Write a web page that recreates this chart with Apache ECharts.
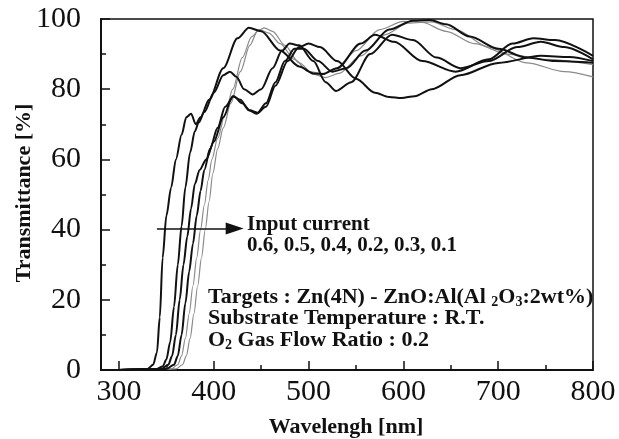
<!DOCTYPE html>
<html>
<head>
<meta charset="utf-8">
<script src="https://cdn.jsdelivr.net/npm/echarts@6/dist/echarts.min.js"></script>
<style>
html, body { margin: 0; padding: 0; background: #fff; }
#main { width: 619px; height: 439px; }
</style>
</head>
<body>
<div id="main"></div>
<script>
// input current 0.6
var wl1 = [300, 330, 336, 340, 343, 346, 350, 355, 360, 366, 371, 376, 381, 386, 395, 410, 425, 437, 450, 470, 490, 505, 515, 530, 555, 570, 590, 620, 655, 690, 715, 737, 760, 800];
var tr1 = [0, 0.3, 1.5, 5, 15, 32, 44, 52, 60, 67, 72, 73, 70, 72, 77, 86, 94.5, 97.5, 96.5, 91, 86.5, 84.5, 84.3, 86, 93, 95.5, 93.5, 88, 85, 88.5, 93, 94.5, 94, 89.5];
// 0.5
var wl2 = [300, 340, 346, 350, 354, 358, 362, 366, 370, 375, 380, 384, 390, 400, 410, 417, 424, 432, 441, 450, 462, 472, 480, 490, 505, 518, 529, 545, 565, 588, 610, 635, 660, 690, 720, 745, 770, 800];
var tr2 = [0, 0.3, 1, 3, 8, 18, 30, 41, 52, 62, 68, 70.5, 73.5, 79, 84, 85, 83.5, 80, 78.5, 80, 86, 91, 93, 92.5, 88, 82, 79.5, 82, 90, 95.5, 94, 89, 86, 88, 92, 93.5, 92, 88.5];
// 0.4
var wl3 = [300, 345, 352, 356, 360, 364, 368, 372, 376, 380, 385, 392, 400, 410, 420, 428, 437, 445, 455, 465, 478, 490, 500, 512, 530, 550, 570, 585, 598, 612, 630, 660, 700, 745, 775, 800];
var tr3 = [0, 0.3, 1.5, 4, 10, 20, 30, 38, 46, 53, 57, 60, 65, 72, 78, 77, 74, 73, 75, 81, 88, 92, 93, 92, 88, 83, 79, 77.8, 77.5, 78, 80, 84, 87.5, 89.5, 89.2, 88];
// 0.2
var wl4 = [300, 350, 358, 362, 366, 370, 374, 378, 382, 386, 390, 396, 404, 412, 421, 430, 438, 446, 455, 465, 475, 485, 495, 510, 525, 540, 560, 585, 610, 628, 645, 670, 700, 730, 760, 800];
var tr4 = [0, 0.3, 1.5, 4, 10, 19, 28, 36, 44, 51, 57, 63, 69, 75, 78, 76, 74, 73.3, 76, 82, 88, 91.5, 91.5, 88, 85, 86, 91, 97, 99.5, 99.7, 98.5, 95, 91.5, 89, 88, 87.5];
// 0.3
var wl5 = [300, 355, 362, 366, 370, 374, 378, 382, 386, 390, 394, 398, 404, 412, 420, 430, 440, 448, 458, 470, 485, 500, 515, 530, 550, 575, 600, 620, 645, 675, 710, 750, 800];
var tr5 = [0, 0.3, 1.5, 4, 9, 16, 24, 32, 40, 47, 54, 60, 66, 73, 80, 89, 95, 97, 96, 93, 88.5, 85, 84.5, 86, 91, 97, 99.3, 99, 96.5, 93, 90, 88.5, 87];
// 0.1
var wl6 = [300, 360, 367, 371, 375, 379, 383, 387, 391, 395, 399, 404, 410, 418, 428, 438, 446, 453, 462, 475, 490, 505, 518, 532, 555, 580, 605, 630, 655, 690, 730, 770, 800];
var tr6 = [0, 0.3, 1.5, 4, 9, 16, 24, 32, 40, 48, 56, 63, 69, 76, 85, 92.5, 96.5, 97.5, 96.5, 92.5, 87.5, 84.3, 83.3, 84.5, 89.5, 95.5, 98.8, 99.2, 97, 92, 87.5, 85, 83.5];

var xMajor = [300, 400, 500, 600, 700, 800];
var xMinor = [350, 450, 550, 650, 750];
var arrowFrom = [340, 40.3];
var arrowTo = [422, 40.3];

var serif = '"Liberation Serif", "Times New Roman", serif';

function pairs(xs, ys) {
	var out = [];
	for (var i = 0; i < xs.length; i++) {
		out.push([xs[i], ys[i]]);
	}
	return out;
}

function curve(name, xs, ys, color, width) {
	return {
		name: name,
		type: 'line',
		data: pairs(xs, ys),
		showSymbol: false,
		smooth: 0.3,
		smoothMonotone: 'x',
		lineStyle: {color: color, width: width},
		silent: true
	};
}

var series = [
	curve('0.3', wl5, tr5, '#8a8a8a', 1.2),
	curve('0.1', wl6, tr6, '#8a8a8a', 1.2),
	curve('0.6', wl1, tr1, '#111', 2),
	curve('0.5', wl2, tr2, '#111', 2),
	curve('0.4', wl3, tr3, '#111', 2),
	curve('0.2', wl4, tr4, '#111', 2)
];

series[2].markLine = {
	silent: true,
	symbol: ['none', 'triangle'],
	symbolSize: [12, 18],
	label: {show: false},
	lineStyle: {color: '#111', width: 1.5, type: 'solid'},
	data: [[{coord: arrowFrom}, {coord: arrowTo}]]
};

var sub = {
	n: {fontSize: 22, fontWeight: 'bold', fontFamily: serif, fill: '#111'},
	s: {fontSize: 14, fontWeight: 'bold', fontFamily: serif, fill: '#111', padding: [10, 0, 0, 0]}
};

var chart = echarts.init(document.getElementById('main'));
chart.setOption({
	backgroundColor: '#fff',
	animation: false,
	grid: {
		left: 101,
		top: 19,
		right: 26,
		bottom: 69,
		show: true,
		borderColor: '#111',
		borderWidth: 1.5,
		outerBoundsMode: 'none'
	},
	xAxis: [{
		type: 'value',
		min: 281,
		max: 800,
		axisLine: {lineStyle: {color: '#111', width: 2}},
		axisTick: {inside: true, length: 9, customValues: xMajor, lineStyle: {color: '#111', width: 1.5}},
		axisLabel: {customValues: xMajor, color: '#111', fontSize: 30, fontFamily: serif, margin: 7},
		splitLine: {show: false}
	}, {
		type: 'value',
		min: 281,
		max: 800,
		position: 'bottom',
		axisLine: {show: false},
		axisTick: {inside: true, length: 5, customValues: xMinor, lineStyle: {color: '#111', width: 1.5}},
		axisLabel: {show: false},
		splitLine: {show: false}
	}],
	yAxis: {
		type: 'value',
		min: 0,
		max: 100,
		interval: 20,
		axisLine: {show: true, lineStyle: {color: '#111', width: 2}},
		axisTick: {show: true, inside: true, length: 9, lineStyle: {color: '#111', width: 1.5}},
		minorTick: {show: true, splitNumber: 2, length: 5, lineStyle: {color: '#111', width: 1.5}},
		axisLabel: {color: '#111', fontSize: 30, fontFamily: serif, margin: 20},
		splitLine: {show: false}
	},
	graphic: [
		{type: 'text', x: 24, y: 193, rotation: Math.PI / 2,
			style: {text: 'Transmittance [%]', fill: '#111', font: 'bold 22px ' + serif, align: 'center', verticalAlign: 'middle'}},
		{type: 'text', x: 346, y: 427,
			style: {text: 'Wavelengh [nm]', fill: '#111', font: 'bold 22px ' + serif, align: 'center', verticalAlign: 'middle'}},
		{type: 'text', x: 247, y: 225,
			style: {text: 'Input current', fill: '#111', font: 'bold 21px ' + serif, align: 'left', verticalAlign: 'middle'}},
		{type: 'text', x: 247, y: 246,
			style: {text: '0.6, 0.5, 0.4, 0.2, 0.3, 0.1', fill: '#111', font: 'bold 21px ' + serif, align: 'left', verticalAlign: 'middle'}},
		{type: 'text', x: 208, y: 297,
			style: {
				text: '{n|Targets : Zn(4N) - ZnO:Al(Al }{s|2}{n|O}{s|3}{n|:2wt%)}',
				fill: '#111', align: 'left', verticalAlign: 'middle', rich: sub
			}},
		{type: 'text', x: 208, y: 318,
			style: {text: 'Substrate Temperature : R.T.', fill: '#111', font: 'bold 22px ' + serif, align: 'left', verticalAlign: 'middle'}},
		{type: 'text', x: 208, y: 340,
			style: {
				text: '{n|O}{s|2}{n| Gas Flow Ratio : 0.2}',
				fill: '#111', align: 'left', verticalAlign: 'middle', rich: sub
			}}
	],
	series: series
});
</script>
</body>
</html>
